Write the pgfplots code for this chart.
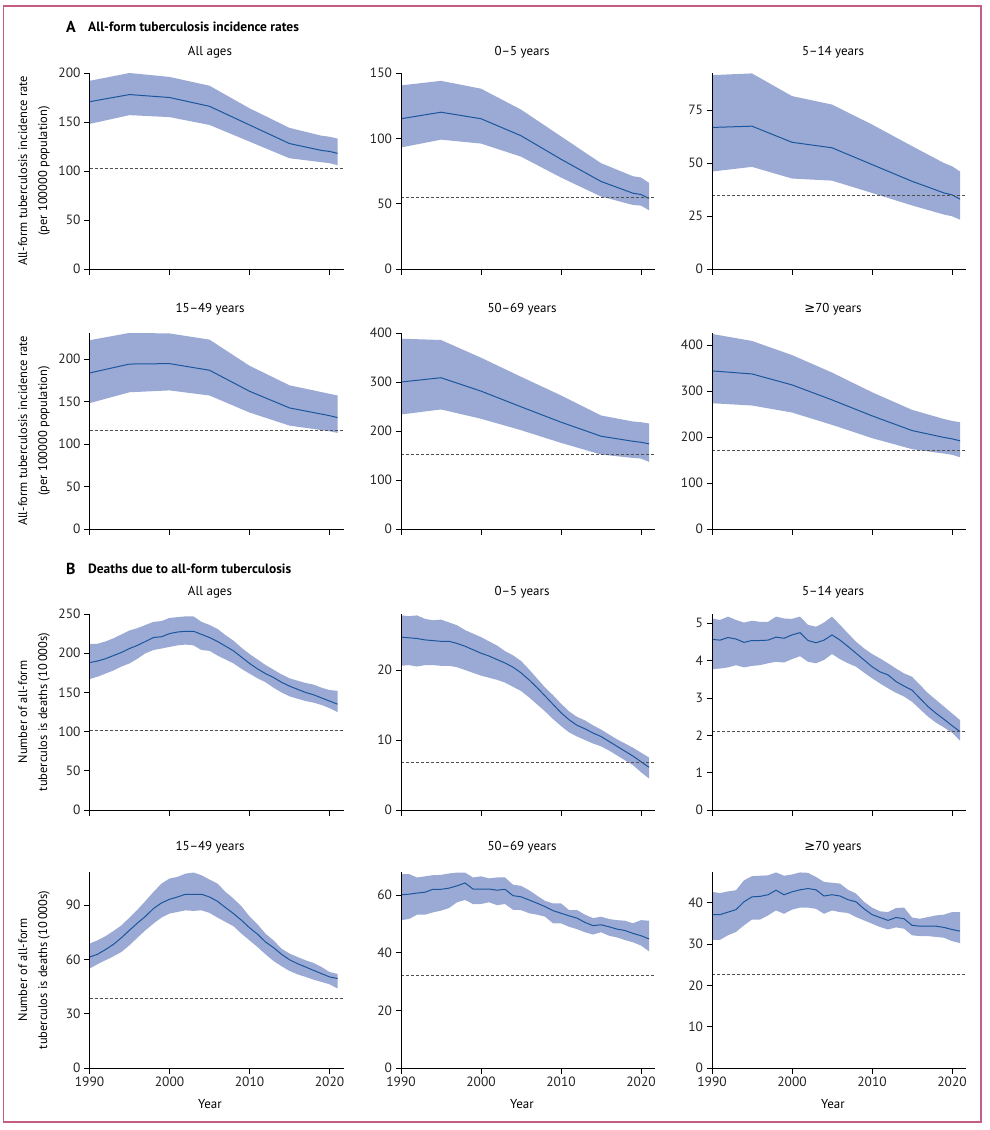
\documentclass[border=0pt]{standalone}
\usepackage{fontspec}
\setmainfont{PT Sans}
\newfontfamily\symfont{DejaVu Sans}
\usepackage{pgfplots}
\pgfplotsset{compat=1.18}
\usepackage{pgfplotstable}

\definecolor{bandc}{RGB}{155,170,212}
\definecolor{meanc}{RGB}{26,86,158}
\definecolor{framec}{RGB}{196,92,132}
\definecolor{refc}{RGB}{80,80,80}

% incidence rates (5-year steps)
\pgfplotstableread{
year mean lo hi
1990 170.7 148 192
1995 178 157 200
2000 175 155 196
2005 166 147 187
2010 147 130 164
2015 128 113 144
2019 121 109 136
2020 120 108 135
2021 118 106 133
}\tAa
\pgfplotstableread{
year mean lo hi
1990 115 93 140.5
1995 120 99 144
2000 115 96 138
2005 102 86 122
2010 84 70 101.5
2015 67 55.5 81
2019 58 49 71
2020 57 48.5 70
2021 54 45 66
}\tAb
\pgfplotstableread{
year mean lo hi
1990 66.8 46 91.5
1995 67.4 48.2 92.3
2000 59.8 42.7 81.6
2005 57.2 41.7 77.6
2010 49.3 35.9 68.2
2015 41.4 30 58
2019 35.9 25.7 50
2020 35 24.9 48.5
2021 33 23.3 46
}\tAc
\pgfplotstableread{
year mean lo hi
1990 183.5 148 222
1995 194 160.8 230.6
2000 194.5 163 230
2005 186.7 157 222.7
2010 162 137 192
2015 142.4 121.6 169
2020 133.3 115 159
2021 131 113 157
}\tAd
\pgfplotstableread{
year mean lo hi
1990 300 233.7 388.4
1995 308.7 244 385.7
2000 281.4 225 349.6
2005 249.4 201.7 310.7
2010 218 175.8 272.6
2015 189.4 152 231.7
2019 179 145 219.4
2020 177 143.8 218
2021 173.8 137 215.3
}\tAe
\pgfplotstableread{
year mean lo hi
1990 343.6 273.4 424
1995 337 268.4 408.7
2000 313.2 253.2 378
2005 280.6 226.4 340
2010 246 197.5 297.3
2015 214 173.6 259
2019 199 164 239
2020 196 161.3 235
2021 191.7 156 232
}\tAf

% deaths (annual)
\pgfplotstableread{
year mean lo hi
1990 188 167 212
1991 190 170 212
1992 193 174 215
1993 197 178 219
1994 201 183 224
1995 206 187 229
1996 210 193 232
1997 215 200 236
1998 220 204 240
1999 221 206 241
2000 225 208 245
2001 227 210 246
2002 228 211 247
2003 228 210 247
2004 224 204 240
2005 220 203 236
2006 215 197 231
2007 209 192 223
2008 203 187 216
2009 195 180 207
2010 187 174 199
2011 180 168 192
2012 174 163 185
2013 169 156 179
2014 163 150 173
2015 158 145 168
2016 154 142 165
2017 150 139 162
2018 147 137 160
2019 143 134 156
2020 139 130 153
2021 135 125 152
}\tBa
\pgfplotstableread{
year mean lo hi
1990 24.7 20.6 27.8
1991 24.6 20.7 27.7
1992 24.5 20.5 27.8
1993 24.3 20.7 27.3
1994 24.2 20.7 27.1
1995 24.1 20.6 27.2
1996 24.1 20.6 26.8
1997 23.8 20.4 26.4
1998 23.4 20.0 25.7
1999 22.9 19.6 25.2
2000 22.4 19.2 24.7
2001 22.0 18.9 24.1
2002 21.5 18.6 23.5
2003 21.0 18.2 22.7
2004 20.4 17.6 22.1
2005 19.6 17.0 21.3
2006 18.6 16.1 20.1
2007 17.5 15.1 18.8
2008 16.3 14.1 17.5
2009 15.1 13.0 16.4
2010 13.9 12.0 15.2
2011 12.9 11.1 14.1
2012 12.1 10.5 13.3
2013 11.6 10.0 12.8
2014 11.0 9.5 12.1
2015 10.5 9.1 11.5
2016 9.8 8.5 10.8
2017 9.1 7.8 10.1
2018 8.4 7.1 9.5
2019 7.7 6.4 8.9
2020 6.9 5.4 8.2
2021 6.1 4.5 7.5
}\tBb
\pgfplotstableread{
year mean lo hi
1990 4.57 3.77 5.13
1991 4.55 3.79 5.09
1992 4.62 3.82 5.18
1993 4.58 3.88 5.09
1994 4.49 3.82 5.02
1995 4.54 3.86 5.07
1996 4.54 3.88 5.04
1997 4.55 3.93 5.04
1998 4.63 3.97 5.18
1999 4.60 3.95 5.13
2000 4.69 4.04 5.12
2001 4.75 4.12 5.18
2002 4.54 3.97 4.96
2003 4.48 3.93 4.91
2004 4.55 4.02 5.02
2005 4.69 4.18 5.18
2006 4.55 4.04 4.96
2007 4.38 3.93 4.73
2008 4.20 3.84 4.51
2009 4.02 3.68 4.33
2010 3.84 3.53 4.18
2011 3.70 3.39 4.06
2012 3.62 3.26 3.93
2013 3.44 3.14 3.79
2014 3.32 3.04 3.66
2015 3.21 2.90 3.57
2016 2.99 2.70 3.35
2017 2.77 2.50 3.13
2018 2.59 2.34 2.95
2019 2.43 2.21 2.77
2020 2.26 2.07 2.59
2021 2.10 1.86 2.41
}\tBc
\pgfplotstableread{
year mean lo hi
1990 61.4 55.0 68.8
1991 62.9 57.4 70.6
1992 65.5 59.6 72.9
1993 68.4 61.8 75.8
1994 72.1 64.2 78.9
1995 76.2 67.9 83.2
1996 80.2 72.1 87.6
1997 83.9 76.2 92.4
1998 88.2 79.9 97.4
1999 91.3 83.2 102.0
2000 93.3 85.4 104.8
2001 94.6 86.3 105.7
2002 96.1 87.2 107.5
2003 96.1 86.9 108.1
2004 96.1 87.2 106.6
2005 94.6 85.8 104.2
2006 92.2 83.2 102.0
2007 88.7 80.8 97.4
2008 85.4 78.4 93.7
2009 81.7 74.3 89.4
2010 77.6 70.6 83.9
2011 74.0 66.9 79.5
2012 69.7 62.9 74.3
2013 66.6 59.2 70.6
2014 62.9 56.3 66.0
2015 59.9 53.7 63.3
2016 57.7 51.8 61.4
2017 55.9 50.4 59.6
2018 54.0 48.9 58.1
2019 52.2 47.6 55.9
2020 50.4 46.3 53.1
2021 49.5 44.0 52.0
}\tBd
\pgfplotstableread{
year mean lo hi
1990 60.1 51.3 67.3
1991 60.3 51.7 67.3
1992 60.7 53.2 66.1
1993 61.0 53.2 66.5
1994 62.0 54.0 66.9
1995 62.0 54.6 67.0
1996 62.4 55.5 67.5
1997 63.2 57.5 67.8
1998 64.2 58.3 67.8
1999 62.1 56.9 66.1
2000 62.1 56.9 66.5
2001 62.1 57.5 65.8
2002 61.7 56.5 66.1
2003 62.0 56.9 66.1
2004 59.8 54.9 63.6
2005 59.4 54.8 63.2
2006 58.3 53.7 61.7
2007 57.2 53.2 59.8
2008 56.0 52.5 58.0
2009 54.6 50.2 57.1
2010 53.7 50.2 57.1
2011 52.8 49.0 54.8
2012 52.0 48.2 54.8
2013 50.5 47.1 53.2
2014 49.4 46.3 52.0
2015 49.7 47.1 52.5
2016 49.0 45.9 51.7
2017 48.2 45.3 51.3
2018 47.7 44.4 51.1
2019 46.7 43.6 50.2
2020 45.9 42.5 51.3
2021 44.8 40.5 51.1
}\tBe
\pgfplotstableread{
year mean lo hi
1990 37.1 31.0 42.6
1991 37.1 31.0 42.3
1992 37.7 32.1 42.7
1993 38.3 32.9 43.0
1994 40.2 34.5 45.4
1995 41.4 35.9 46.4
1996 41.5 35.9 46.5
1997 41.9 36.9 46.6
1998 43.0 38.1 47.3
1999 41.9 37.3 46.5
2000 42.6 38.3 46.8
2001 43.1 38.8 47.3
2002 43.4 38.8 47.2
2003 43.1 38.5 46.2
2004 41.6 37.3 45.0
2005 41.9 38.1 44.8
2006 41.6 37.7 44.6
2007 40.7 37.5 43.1
2008 40.2 36.5 42.2
2009 38.5 35.7 40.2
2010 37.1 34.9 38.8
2011 36.4 34.1 37.9
2012 35.7 33.5 37.7
2013 36.4 34.0 38.7
2014 36.1 33.7 38.8
2015 34.5 32.1 36.4
2016 34.3 31.9 36.1
2017 34.3 31.9 36.5
2018 34.3 31.7 36.9
2019 34.0 31.5 37.1
2020 33.5 30.7 37.7
2021 33.1 30.2 37.7
}\tBf

\pgfplotsset{
  panel/.style={
    scale only axis, width=254.4bp, height=196bp,
    xmin=1990, xmax=2021.8, ymin=0,
    axis lines*=left, axis on top,
    axis line style={line width=0.8bp, black},
    every tick/.style={line width=0.8bp, black},
    major tick length=5.5bp, tick align=outside,
    xtick={1990,2000,2010,2020}, xticklabels={,,,},
    tick label style={font=\fontsize{13.5}{14}\selectfont, text=black!85},
    /pgf/number format/assume math mode=true,
    /pgf/number format/1000 sep={},
  },
  lastrow/.style={xticklabels={1990,2000,2010,2020}},
}

% #1 x of y axis, #2 y of x axis (from the top), #3 options, #4 table, #5 reference line
\newcommand\panel[5]{%
  \begin{axis}[panel, at={(#1bp,-#2bp)}, anchor=south west, #3]
    % band: lower bound, then the interval stacked on it
    \addplot[stack plots=y, draw=none, fill=none, forget plot] table[x=year, y=lo] {#4} \closedcycle;
    \addplot[stack plots=y, draw=none, fill=bandc] table[x=year, y expr=\thisrow{hi}-\thisrow{lo}] {#4} \closedcycle;
    \addplot[meanc, line width=1bp] table[x=year, y=mean] {#4};
    \addplot[refc, line width=0.7bp, dash pattern=on 3bp off 2bp] coordinates {(1990,#5) (2021.8,#5)};
  \end{axis}}

\begin{document}
\begin{tikzpicture}
\fill[white] (0,0) rectangle (990bp,-1130bp);
\draw[framec, line width=1.4bp] (3.5bp,-6bp) rectangle (981bp,-1122bp);

% section headings
\node[anchor=west, font=\fontsize{16}{16}\selectfont\bfseries, inner sep=0] at (66bp,-27bp) {A};
\node[anchor=west, font=\fontsize{13.5}{14}\selectfont\bfseries, inner sep=0] at (88bp,-27bp) {All-form tuberculosis incidence rates};
\node[anchor=west, font=\fontsize{16}{16}\selectfont\bfseries, inner sep=0] at (66bp,-569bp) {B};
\node[anchor=west, font=\fontsize{13.5}{14}\selectfont\bfseries, inner sep=0] at (88bp,-569bp) {Deaths due to all-form tuberculosis};

% panel A
\panel{89.5}{269}{ymax=200, ytick={0,50,...,200}}{\tAa}{103}
\panel{401}{269}{ymax=150, ytick={0,50,...,150}}{\tAb}{55}
\panel{712}{269}{ymax=92.5, ytick={0,25,50,75}}{\tAc}{34.6}
\panel{89.5}{529}{ymax=230.5, ytick={0,50,...,200}}{\tAd}{115.7}
\panel{401}{529}{ymax=400, ytick={0,100,...,400}}{\tAe}{152.6}
\panel{712}{529}{ymax=426, ytick={0,100,...,400}}{\tAf}{170.7}
% panel B
\panel{89.5}{810}{ymax=250, ytick={0,50,...,250}}{\tBa}{102}
\panel{401}{810}{ymax=28, ytick={0,10,20}}{\tBb}{6.8}
\panel{712}{810}{ymax=5.25, ytick={0,1,...,5}}{\tBc}{2.1}
\panel{89.5}{1068}{lastrow, ymax=108.4, ytick={0,30,60,90}}{\tBd}{38.4}
\panel{401}{1068}{lastrow, ymax=68, ytick={0,20,40,60}}{\tBe}{32.3}
\panel{712}{1068}{lastrow, ymax=47.4, ytick={0,10,...,40}}{\tBf}{22.6}

% panel titles
\begin{scope}[every node/.style={font=\fontsize{13}{14}\selectfont}]
\node at (210bp,-52bp) {All ages};
\node at (522bp,-52bp) {0–5 years};
\node at (833bp,-52bp) {5–14 years};
\node at (210bp,-309bp) {15–49 years};
\node at (522bp,-309bp) {50–69 years};
\node at (833bp,-309bp) {{\symfont ≥}70 years};
\node at (210bp,-592bp) {All ages};
\node at (522bp,-592bp) {0–5 years};
\node at (833bp,-592bp) {5–14 years};
\node at (210bp,-847bp) {15–49 years};
\node at (522bp,-847bp) {50–69 years};
\node at (833bp,-847bp) {{\symfont ≥}70 years};
\node at (210bp,-1104bp) {Year};
\node at (522bp,-1104bp) {Year};
\node at (833bp,-1104bp) {Year};
\end{scope}

% y labels
\begin{scope}[every node/.style={font=\fontsize{12.5}{20}\selectfont, rotate=90, align=center}]
\node at (34bp,-171bp) {All-form tuberculosis incidence rate\\(per 100000 population)};
\node at (34bp,-431bp) {All-form tuberculosis incidence rate\\(per 100000 population)};
\node at (34bp,-712bp) {Number of all-form\\tuberculos is deaths (10\,000s)};
\node at (34bp,-970bp) {Number of all-form\\tuberculos is deaths (10\,000s)};
\end{scope}
\end{tikzpicture}
\end{document}
